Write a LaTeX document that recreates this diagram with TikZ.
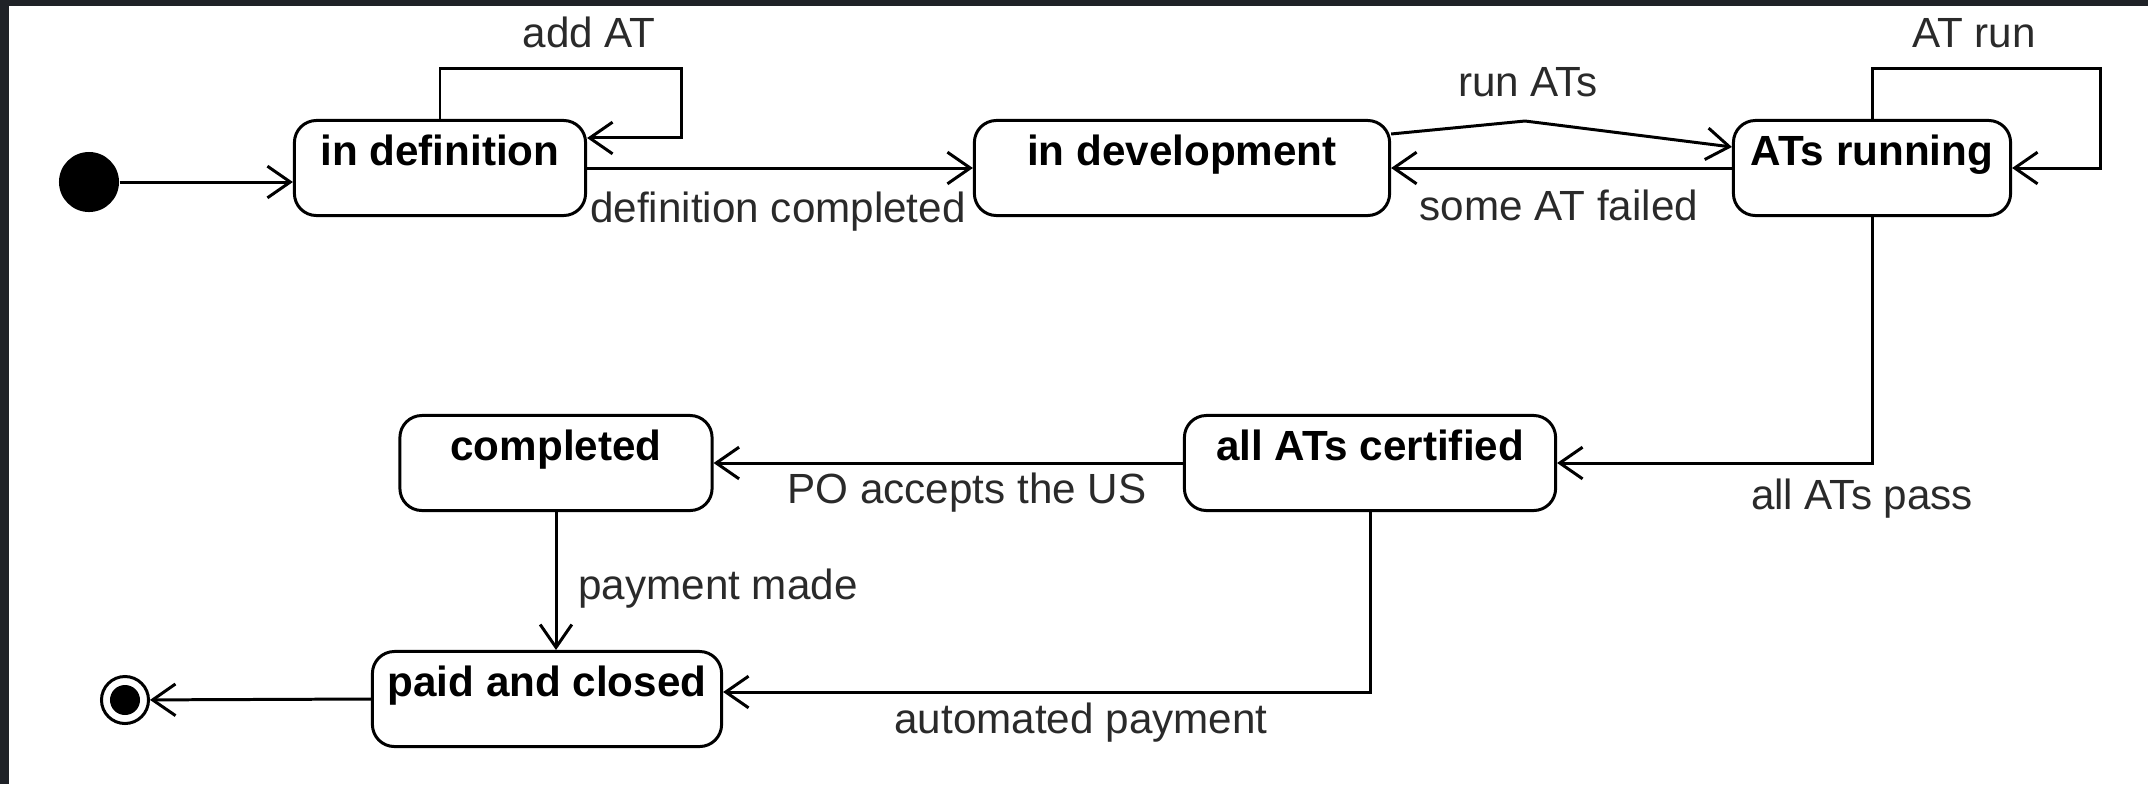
\documentclass[tikz,border=0pt]{standalone}
\usepackage{fontspec}
\setmainfont{Liberation Sans}
\usetikzlibrary{arrows.meta}
\definecolor{cadre}{HTML}{1F2227}
\definecolor{gristexte}{HTML}{2A2A2A}
\begin{document}
\begin{tikzpicture}[
      x=0.01cm, y=-0.01cm,
      font=\fontsize{12}{14}\selectfont,
      etat/.style={
        draw,
        rounded corners=0.22cm,
        line width=0.85pt,
        font=\fontsize{12}{14}\selectfont\bfseries,
        inner ysep=0pt,
        text height=0.45cm,
        text depth=0.5cm
      },
      trans/.style={
        -{Straight Barb[length=6.5pt,width=9pt]},
        line width=0.85pt
      },
      garde/.style={
        text=gristexte
      }
    ]
    \useasboundingbox (0,0) rectangle (2148,784);
    \fill[cadre] (0,0) rectangle (2148,784);
    \fill[white] (9,6) rectangle (2148,784);

    \node[etat, minimum width=2.91cm] (indef) at (440,168) {in definition};
    \node[etat, minimum width=4.15cm] (indev) at (1182,168) {in development};
    \node[etat, minimum width=2.77cm] (running) at (1872,168) {ATs running};
    \node[etat, minimum width=3.71cm] (certified) at (1370,463) {all ATs certified};
    \node[etat, minimum width=3.12cm] (completed) at (556,463) {completed};
    \node[etat, minimum width=3.49cm] (paid) at (547,699) {paid and closed};

    \node[circle, fill, inner sep=0pt, minimum size=0.6cm] (init) at (89,182) {};
    \node[circle, draw, line width=0.85pt, inner sep=0pt, minimum size=0.47cm] (fin) at (125,700) {};
    \node[circle, fill, inner sep=0pt, minimum size=0.3cm] (fincore) at (fin) {};

    \coordinate (indefloop) at (681,68);
    \coordinate (runpeak) at (1525,121);
    \coordinate (atrunloop) at (2100,68);

    \draw[trans] (init.east) -- (init.east -| indef.west);
    \draw[trans] (indef.north) |- (indefloop) |- ([yshift=0.3cm]indef.east);
    \draw[trans] (indef.east) -- (indev.west);
    \draw[trans] ([yshift=0.34cm]indev.east) -- (runpeak) -- ([yshift=0.21cm]running.west);
    \draw[trans] (running.west) -- (indev.east);
    \draw[trans] (running.north) |- (atrunloop) |- (running.east);
    \draw[trans] (running.south) |- (certified.east);
    \draw[trans] (certified.west) -- (completed.east);
    \draw[trans] (completed.south) -- (completed.south |- paid.north);
    \draw[trans] (certified.south) |- ([yshift=0.07cm]paid.east);
    \draw[trans] (paid.west) -- (fin);

    \node[garde] (addat) at (589,32) {add AT};
    \node[garde] (defdone) at (778,212) {definition completed};
    \node[garde] (runats) at (1528,82) {run ATs};
    \node[garde] (atfailed) at (1559,205) {some AT failed};
    \node[garde] (atrun) at (1974,33) {AT run};
    \node[garde] (atspass) at (1862,499) {all ATs pass};
    \node[garde] (poaccepts) at (967,493) {PO accepts the US};
    \node[garde] (paymade) at (718,589) {payment made};
    \node[garde] (autopay) at (1081,723) {automated payment};
  \end{tikzpicture}
\end{document}
